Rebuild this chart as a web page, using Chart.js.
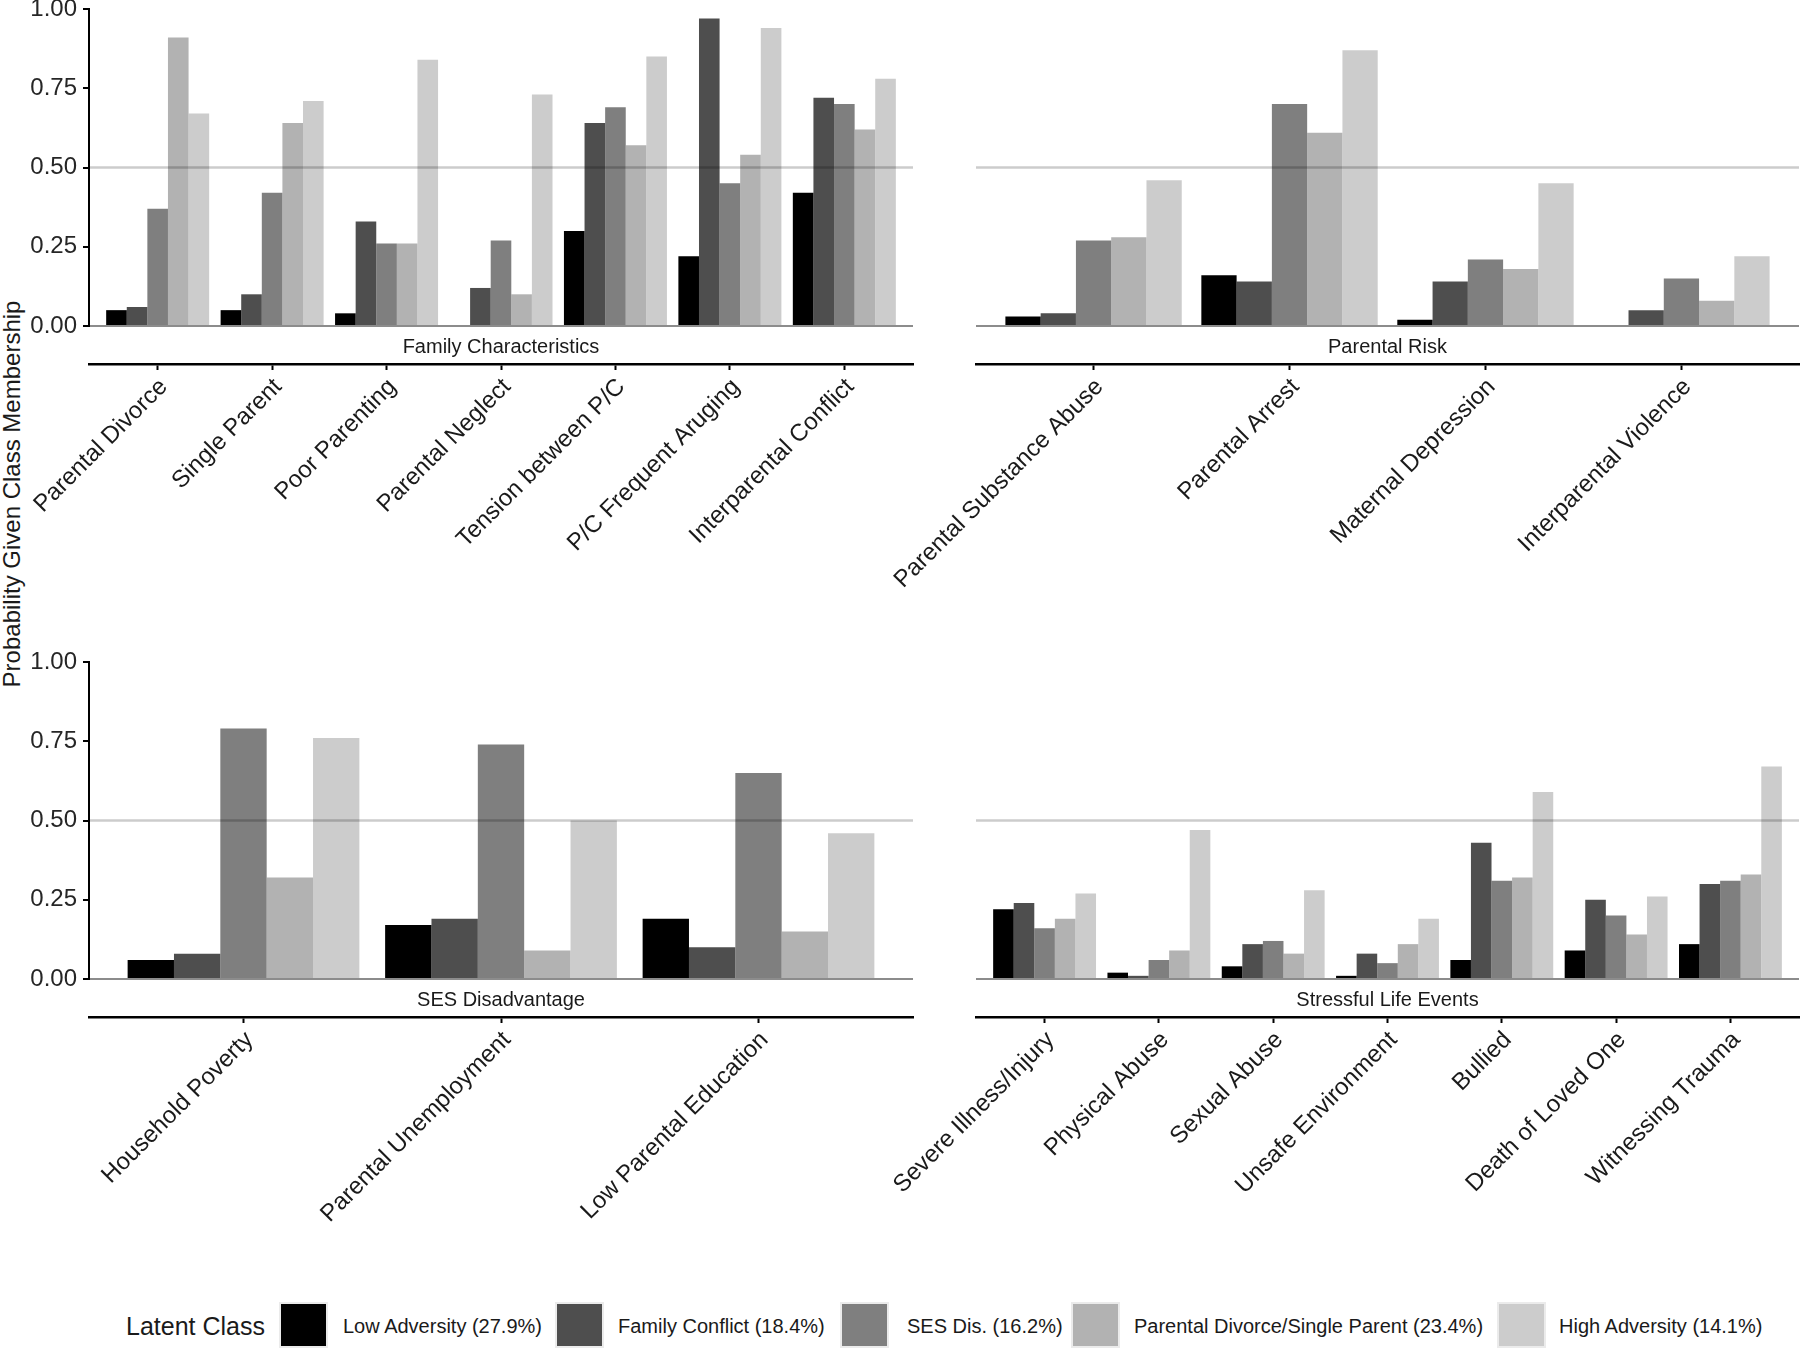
<!DOCTYPE html>
<html>
<head>
<meta charset="utf-8">
<script src="https://cdn.jsdelivr.net/npm/chart.js@4.4.1/dist/chart.umd.min.js"></script>
<style>
  html, body { margin: 0; padding: 0; background: #ffffff; }
  body { width: 1800px; height: 1354px; position: relative; overflow: hidden; font-family: "Liberation Sans", Arial, sans-serif; }
  canvas { position: absolute; }
  #ytitle { position: absolute; left: 12px; top: 494px; transform: translate(-50%, -50%) rotate(-90deg); white-space: nowrap; font-size: 24px; color: #1a1a1a; }
  .lg { position: absolute; white-space: nowrap; color: #1a1a1a; }
  .lgbox { position: absolute; top: 1302px; height: 46px; box-sizing: border-box; border: 2px solid #ebebeb; }
  .lgtxt { top: 1326px; transform: translateY(-50%); font-size: 20px; }
</style>
</head>
<body>
<div id="ytitle">Probability Given Class Membership</div>
<div id="legend"></div>
<canvas id="cTL"></canvas>
<canvas id="cTR"></canvas>
<canvas id="cBL"></canvas>
<canvas id="cBR"></canvas>
<script>
// ---------------- DATA ----------------
const classNames = ["Low Adversity (27.9%)", "Family Conflict (18.4%)", "SES Dis. (16.2%)", "Parental Divorce/Single Parent (23.4%)", "High Adversity (14.1%)"];
const classColors = ["#000000", "#4e4e4e", "#7f7f7f", "#b2b2b2", "#cccccc"];
const legendTitle = "Latent Class";
const yTicks = [0, 0.25, 0.5, 0.75, 1];
const refLine = 0.5;

// Family Characteristics
const famTitle = "Family Characteristics";
const famCats = ["Parental Divorce", "Single Parent", "Poor Parenting", "Parental Neglect", "Tension between P/C", "P/C Frequent Aruging", "Interparental Conflict"];
const famLow      = [0.05, 0.05, 0.04, 0.00, 0.30, 0.22, 0.42];
const famConflict = [0.06, 0.10, 0.33, 0.12, 0.64, 0.97, 0.72];
const famSES      = [0.37, 0.42, 0.26, 0.27, 0.69, 0.45, 0.70];
const famDivorce  = [0.91, 0.64, 0.26, 0.10, 0.57, 0.54, 0.62];
const famHigh     = [0.67, 0.71, 0.84, 0.73, 0.85, 0.94, 0.78];

// Parental Risk
const riskTitle = "Parental Risk";
const riskCats = ["Parental Substance Abuse", "Parental Arrest", "Maternal Depression", "Interparental Violence"];
const riskLow      = [0.03, 0.16, 0.02, 0.00];
const riskConflict = [0.04, 0.14, 0.14, 0.05];
const riskSES      = [0.27, 0.70, 0.21, 0.15];
const riskDivorce  = [0.28, 0.61, 0.18, 0.08];
const riskHigh     = [0.46, 0.87, 0.45, 0.22];

// SES Disadvantage
const sesTitle = "SES Disadvantage";
const sesCats = ["Household Poverty", "Parental Unemployment", "Low Parental Education"];
const sesLow      = [0.06, 0.17, 0.19];
const sesConflict = [0.08, 0.19, 0.10];
const sesSES      = [0.79, 0.74, 0.65];
const sesDivorce  = [0.32, 0.09, 0.15];
const sesHigh     = [0.76, 0.50, 0.46];

// Stressful Life Events
const sleTitle = "Stressful Life Events";
const sleCats = ["Severe Illness/Injury", "Physical Abuse", "Sexual Abuse", "Unsafe Environment", "Bullied", "Death of Loved One", "Witnessing Trauma"];
const sleLow      = [0.22, 0.02, 0.04, 0.01, 0.06, 0.09, 0.11];
const sleConflict = [0.24, 0.01, 0.11, 0.08, 0.43, 0.25, 0.30];
const sleSES      = [0.16, 0.06, 0.12, 0.05, 0.31, 0.20, 0.31];
const sleDivorce  = [0.19, 0.09, 0.08, 0.11, 0.32, 0.14, 0.33];
const sleHigh     = [0.27, 0.47, 0.28, 0.19, 0.59, 0.26, 0.67];

// ---------------- LAYOUT ----------------
const FONT = "'Liberation Sans', Arial, sans-serif";
const STRIP_H = 38;
const AXIS_H = 250;

function makePanel(id, geom, title, cats, series, showY) {
  const cv = document.getElementById(id);
  cv.width = geom.w; cv.height = geom.h;
  cv.style.left = geom.x + 'px'; cv.style.top = geom.y + 'px';
  cv.style.width = geom.w + 'px'; cv.style.height = geom.h + 'px';
  const n = cats.length;
  const datasets = series.map((vals, k) => ({
    type: 'bar',
    label: classNames[k],
    data: vals.map((v, i) => ({ x: i, y: v })),
    backgroundColor: classColors[k],
    borderWidth: 0,
    categoryPercentage: 0.9,
    barPercentage: 1.0,
    order: 2
  }));
  datasets.push({
    type: 'line',
    label: 'ref',
    data: [{ x: -0.6, y: refLine }, { x: n - 0.4, y: refLine }],
    borderColor: 'rgba(0,0,0,0.2)',
    borderWidth: 2.5,
    pointRadius: 0,
    fill: false,
    order: 0
  });
  new Chart(cv, {
    type: 'bar',
    data: { datasets },
    options: {
      responsive: false,
      maintainAspectRatio: false,
      animation: false,
      devicePixelRatio: 1,
      layout: { padding: { left: geom.pl, right: geom.pr, top: geom.pt, bottom: 0 } },
      plugins: { legend: { display: false }, tooltip: { enabled: false } },
      scales: {
        x: {
          type: 'linear',
          position: 'bottom',
          weight: 2,
          offset: false,
          min: -0.6,
          max: n - 0.4,
          afterBuildTicks: (ax) => { ax.ticks = cats.map((c, i) => ({ value: i })); },
          afterFit: (ax) => { ax.height = AXIS_H; ax.paddingLeft = 0; ax.paddingRight = 0; },
          border: { display: true, color: '#000000', width: 2.5 },
          grid: { display: true, offset: false, drawOnChartArea: false, drawTicks: true, tickLength: 6, tickColor: '#000000', tickWidth: 2, color: '#000000' },
          ticks: {
            autoSkip: false,
            minRotation: 45,
            maxRotation: 45,
            padding: 3,
            labelOffset: 6,
            color: '#1a1a1a',
            font: { family: FONT, size: 24 },
            callback: (v, i) => cats[i]
          }
        },
        strip: {
          type: 'linear',
          position: 'bottom',
          weight: 1,
          offset: false,
          min: 0, max: 1,
          afterFit: (ax) => { ax.height = STRIP_H; ax.paddingLeft = 0; ax.paddingRight = 0; },
          border: { display: false },
          grid: { display: false },
          ticks: { display: false },
          title: { display: true, text: title, color: '#1a1a1a', font: { family: FONT, size: 20 }, padding: { top: 0, bottom: 5 } }
        },
        y: {
          type: 'linear',
          position: 'left',
          min: 0, max: 1,
          afterBuildTicks: (ax) => { ax.ticks = yTicks.map(v => ({ value: v })); },
          afterFit: (ax) => { ax.width = showY ? 89 : 0; ax.paddingTop = 0; ax.paddingBottom = 0; },
          border: { display: showY, color: '#000000', width: 2 },
          grid: {
            display: true,
            drawOnChartArea: true,
            drawTicks: showY,
            tickLength: 6,
            tickColor: '#000000',
            tickWidth: 2,
            lineWidth: 2,
            color: (c) => (c.tick && c.tick.value === 0) ? '#8c8c8c' : 'rgba(0,0,0,0)'
          },
          ticks: {
            display: showY,
            padding: 6,
            color: '#262626',
            font: { family: FONT, size: 24 },
            callback: (v) => Number(v).toFixed(2)
          }
        }
      }
    }
  });
}

const H = 19 + 317 + STRIP_H + AXIS_H;
makePanel('cTL', { x: 0,   y: -10, w: 930, h: H, pl: 0,   pr: 17, pt: 19 }, famTitle,  famCats,  [famLow, famConflict, famSES, famDivorce, famHigh], true);
makePanel('cTR', { x: 856, y: -10, w: 944, h: H, pl: 120, pr: 1,  pt: 19 }, riskTitle, riskCats, [riskLow, riskConflict, riskSES, riskDivorce, riskHigh], false);
makePanel('cBL', { x: 0,   y: 643, w: 930, h: H, pl: 0,   pr: 17, pt: 19 }, sesTitle,  sesCats,  [sesLow, sesConflict, sesSES, sesDivorce, sesHigh], true);
makePanel('cBR', { x: 856, y: 643, w: 944, h: H, pl: 120, pr: 1,  pt: 19 }, sleTitle,  sleCats,  [sleLow, sleConflict, sleSES, sleDivorce, sleHigh], false);

// ---------------- LEGEND (HTML text) ----------------
const lgBoxX = [279, 555, 840, 1071, 1497];
const lgTxtX = [343, 618, 907, 1134, 1559];
const lg = document.getElementById('legend');
const t = document.createElement('div');
t.className = 'lg'; t.textContent = legendTitle;
t.style.left = '126px'; t.style.top = '1326px'; t.style.transform = 'translateY(-50%)'; t.style.fontSize = '25px';
lg.appendChild(t);
classNames.forEach((name, k) => {
  const b = document.createElement('div');
  b.className = 'lgbox';
  b.style.left = lgBoxX[k] + 'px'; b.style.width = '49px';
  b.style.background = classColors[k];
  lg.appendChild(b);
  const s = document.createElement('div');
  s.className = 'lg lgtxt';
  s.style.left = lgTxtX[k] + 'px';
  s.textContent = name;
  lg.appendChild(s);
});
</script>
</body>
</html>
